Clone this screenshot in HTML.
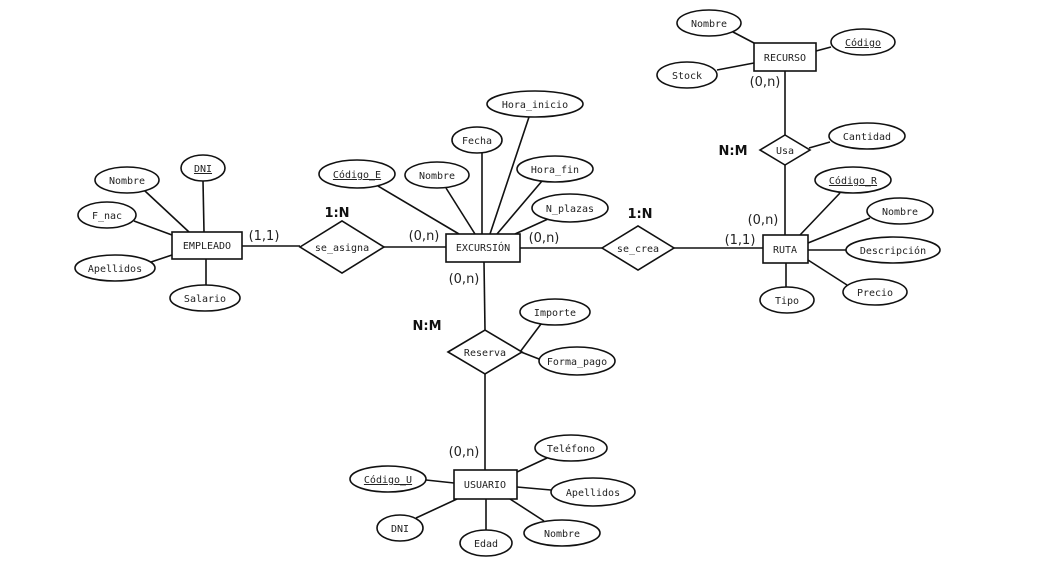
<!DOCTYPE html>
<html><head><meta charset="utf-8"><style>
html,body{margin:0;padding:0;background:#fff}
svg text{font-family:"DejaVu Sans Mono","Liberation Mono",monospace;font-size:10px;fill:#222}
.c{font-family:"DejaVu Sans","Liberation Sans",sans-serif;font-size:13px;fill:#222}
.b{font-family:"DejaVu Sans","Liberation Sans",sans-serif;font-size:13px;font-weight:bold;fill:#111}
</style></head><body>
<svg width="1040" height="580" viewBox="0 0 1040 580" xmlns="http://www.w3.org/2000/svg">
<g stroke="#111" stroke-width="1.6" fill="none">
<!-- EMPLEADO lines -->
<line x1="203" y1="181" x2="204" y2="232"/>
<line x1="145" y1="191" x2="189" y2="232"/>
<line x1="134" y1="221" x2="172" y2="235"/>
<line x1="151" y1="262" x2="172" y2="255"/>
<line x1="206" y1="259" x2="206" y2="285"/>
<line x1="242" y1="246" x2="300" y2="246"/>
<line x1="384" y1="247" x2="446" y2="247"/>
<!-- EXCURSION lines -->
<line x1="378" y1="186" x2="459" y2="234"/>
<line x1="446" y1="188" x2="475" y2="234"/>
<line x1="482" y1="153" x2="482" y2="234"/>
<line x1="529" y1="117" x2="490" y2="234"/>
<line x1="542" y1="181" x2="497" y2="234"/>
<line x1="548" y1="219" x2="515" y2="234"/>
<line x1="520" y1="248" x2="602" y2="248"/>
<line x1="674" y1="248" x2="763" y2="248"/>
<line x1="484" y1="262" x2="485" y2="330"/>
<line x1="485" y1="374" x2="485" y2="470"/>
<line x1="541" y1="324" x2="520" y2="352"/>
<line x1="521" y1="352" x2="539" y2="359"/>
<!-- RECURSO -->
<line x1="733" y1="32" x2="754" y2="43"/>
<line x1="816" y1="51" x2="831" y2="47"/>
<line x1="717" y1="70" x2="754" y2="63"/>
<line x1="785" y1="71" x2="785" y2="135"/>
<line x1="809" y1="148" x2="830" y2="142"/>
<line x1="785" y1="165" x2="785" y2="235"/>
<!-- RUTA -->
<line x1="840" y1="193" x2="800" y2="235"/>
<line x1="870" y1="218" x2="808" y2="243"/>
<line x1="846" y1="250" x2="808" y2="250"/>
<line x1="847" y1="285" x2="808" y2="260"/>
<line x1="786" y1="263" x2="786" y2="287"/>
<!-- USUARIO -->
<line x1="547" y1="458" x2="517" y2="472"/>
<line x1="426" y1="480" x2="454" y2="483"/>
<line x1="551" y1="490" x2="517" y2="487"/>
<line x1="416" y1="518" x2="457" y2="499"/>
<line x1="486" y1="530" x2="486" y2="499"/>
<line x1="544" y1="521" x2="510" y2="499"/>
</g>
<g stroke="#111" stroke-width="1.6" fill="#fff">
<rect x="172" y="232" width="70" height="27"/>
<rect x="446" y="234" width="74" height="28"/>
<rect x="754" y="43" width="62" height="28"/>
<rect x="763" y="235" width="45" height="28"/>
<rect x="454" y="470" width="63" height="29"/>
<polygon points="300,247 342,221 384,247 342,273"/>
<polygon points="602,248 638,226 674,248 638,270"/>
<polygon points="448,352 485,330 522,352 485,374"/>
<polygon points="760,150 785,135 810,150 785,165"/>
<ellipse cx="203" cy="168" rx="22" ry="13"/>
<ellipse cx="127" cy="180" rx="32" ry="13"/>
<ellipse cx="107" cy="215" rx="29" ry="13"/>
<ellipse cx="115" cy="268" rx="40" ry="13"/>
<ellipse cx="205" cy="298" rx="35" ry="13"/>
<ellipse cx="357" cy="174" rx="38" ry="14"/>
<ellipse cx="437" cy="175" rx="32" ry="13"/>
<ellipse cx="477" cy="140" rx="25" ry="13"/>
<ellipse cx="535" cy="104" rx="48" ry="13"/>
<ellipse cx="555" cy="169" rx="38" ry="13"/>
<ellipse cx="570" cy="208" rx="38" ry="14"/>
<ellipse cx="555" cy="312" rx="35" ry="13"/>
<ellipse cx="577" cy="361" rx="38" ry="14"/>
<ellipse cx="709" cy="23" rx="32" ry="13"/>
<ellipse cx="863" cy="42" rx="32" ry="13"/>
<ellipse cx="687" cy="75" rx="30" ry="13"/>
<ellipse cx="867" cy="136" rx="38" ry="13"/>
<ellipse cx="853" cy="180" rx="38" ry="13"/>
<ellipse cx="900" cy="211" rx="33" ry="13"/>
<ellipse cx="893" cy="250" rx="47" ry="13"/>
<ellipse cx="875" cy="292" rx="32" ry="13"/>
<ellipse cx="787" cy="300" rx="27" ry="13"/>
<ellipse cx="571" cy="448" rx="36" ry="13"/>
<ellipse cx="388" cy="479" rx="38" ry="13"/>
<ellipse cx="593" cy="492" rx="42" ry="14"/>
<ellipse cx="400" cy="528" rx="23" ry="13"/>
<ellipse cx="486" cy="543" rx="26" ry="13"/>
<ellipse cx="562" cy="533" rx="38" ry="13"/>
</g>
<g text-anchor="middle">
<text x="207" y="249">EMPLEADO</text>
<text x="483" y="251">EXCURSIÓN</text>
<text x="785" y="61">RECURSO</text>
<text x="785" y="253">RUTA</text>
<text x="485" y="488">USUARIO</text>
<text x="342" y="251">se_asigna</text>
<text x="638" y="252">se_crea</text>
<text x="485" y="356">Reserva</text>
<text x="785" y="154">Usa</text>
<text x="203" y="172" text-decoration="underline">DNI</text>
<text x="127" y="184">Nombre</text>
<text x="107" y="219">F_nac</text>
<text x="115" y="272">Apellidos</text>
<text x="205" y="302">Salario</text>
<text x="357" y="178" text-decoration="underline">Código_E</text>
<text x="437" y="179">Nombre</text>
<text x="477" y="144">Fecha</text>
<text x="535" y="108">Hora_inicio</text>
<text x="555" y="173">Hora_fin</text>
<text x="570" y="212">N_plazas</text>
<text x="555" y="316">Importe</text>
<text x="577" y="365">Forma_pago</text>
<text x="709" y="27">Nombre</text>
<text x="863" y="46" text-decoration="underline">Código</text>
<text x="687" y="79">Stock</text>
<text x="867" y="140">Cantidad</text>
<text x="853" y="184" text-decoration="underline">Código_R</text>
<text x="900" y="215">Nombre</text>
<text x="893" y="254">Descripción</text>
<text x="875" y="296">Precio</text>
<text x="787" y="304">Tipo</text>
<text x="571" y="452">Teléfono</text>
<text x="388" y="483" text-decoration="underline">Código_U</text>
<text x="593" y="496">Apellidos</text>
<text x="400" y="532">DNI</text>
<text x="486" y="547">Edad</text>
<text x="562" y="537">Nombre</text>
<text class="c" x="264" y="240">(1,1)</text>
<text class="c" x="424" y="240">(0,n)</text>
<text class="c" x="544" y="242">(0,n)</text>
<text class="c" x="464" y="283">(0,n)</text>
<text class="c" x="765" y="86">(0,n)</text>
<text class="c" x="763" y="224">(0,n)</text>
<text class="c" x="740" y="244">(1,1)</text>
<text class="c" x="464" y="456">(0,n)</text>
<text class="b" x="337" y="217">1:N</text>
<text class="b" x="640" y="218">1:N</text>
<text class="b" x="427" y="330">N:M</text>
<text class="b" x="733" y="155">N:M</text>
</g>
</svg>
</body></html>
